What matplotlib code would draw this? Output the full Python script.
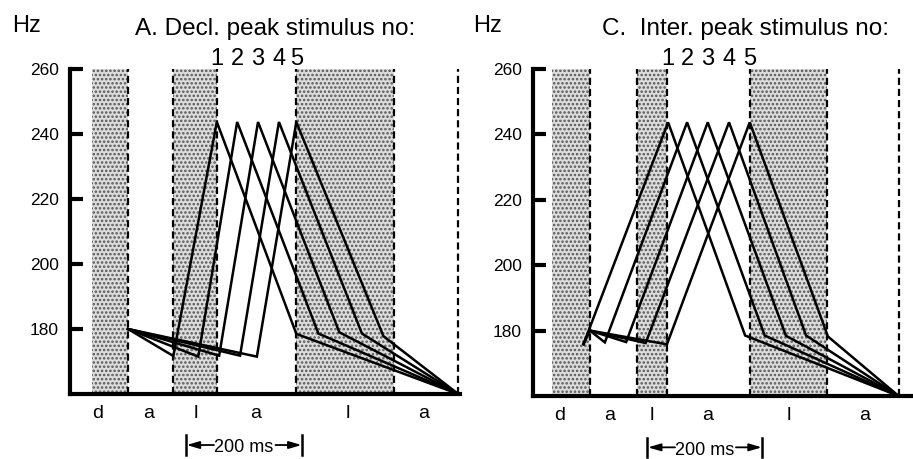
import matplotlib
matplotlib.use('Agg')
import matplotlib.pyplot as plt

plt.rcParams['font.family'] = ['Liberation Sans', 'DejaVu Sans']
plt.rcParams['hatch.linewidth'] = 1.2

# frequencies shared by both panels (Hz)
start_hz = 180
peak_hz = 243.7
end_hz = 160
yticks = [180, 200, 220, 240, 260]
seg_labels = ['d', 'a', 'l', 'a', 'l', 'a']
stim_nos = ['1', '2', '3', '4', '5']

# A. declining peak (times in ms, 0 = end of the 'd' segment)
a_dip_t = [78, 121, 157, 193, 222]
a_dip_hz = [171.7, 171.5, 171.8, 171.8, 171.5]
a_peak_t = [153, 188, 224, 260, 290]
a_knee_t = [290, 328, 364, 403, 440]
a_knee_hz = [178.5, 178.6, 179.0, 178.6, 177.8]
a_end_t = 569
a_bounds = [0, 78, 153, 290, 459, 569]
a_shade = [(-62, 0), (78, 153), (290, 459)]
a_label_t = [-52, 36, 117, 219, 378, 509]

# C. intermediate peak
c_dip_t = [-12, 26, 63, 97, 134]
c_dip_hz = [175.5, 176.4, 176.5, 176.2, 175.8]
c_peak_t = [136, 169, 205, 242, 278]
c_knee_t = [270, 304, 341, 376, 414]
c_knee_hz = [178.5, 178.5, 178.4, 178.5, 178.2]
c_end_t = 537
c_bounds = [0, 82, 134, 278, 412, 537]
c_shade = [(-66, 0), (82, 134), (278, 412)]
c_label_t = [-52, 35, 108, 205, 346, 477]

W, H = 913, 459
fig = plt.figure(figsize=(W / 100, H / 100), dpi=100)


def px_axes(left, top, right, bottom):
    return fig.add_axes([left / W, 1 - bottom / H, (right - left) / W, (bottom - top) / H])


def draw_panel(ax, title, title_t, dip_t, dip_hz, peak_t, knee_t, knee_hz,
               end_t, bounds, shade, label_t, xlim):
    ax.set_xlim(*xlim)
    ax.set_ylim(160, 260)

    # stippled segments
    for x0, x1 in shade:
        ax.axvspan(x0, x1, facecolor='#dcdcdc', edgecolor='#555555',
                   hatch='....', lw=0, zorder=0)
    for b in bounds:
        ax.axvline(b, color='k', lw=1.6, ls=(0, (3.2, 1.8)), zorder=1)

    # the five stimuli
    for i in range(5):
        ts = [0, dip_t[i], peak_t[i], knee_t[i], end_t]
        hz = [start_hz, dip_hz[i], peak_hz, knee_hz[i], end_hz]
        ax.plot(ts, hz, color='k', lw=1.8, zorder=3, solid_joinstyle='miter',
                clip_on=False)

    for sp in ['top', 'right']:
        ax.spines[sp].set_visible(False)
    for sp in ['left', 'bottom']:
        ax.spines[sp].set_linewidth(3)
    ax.set_yticks(yticks)
    ax.tick_params(axis='y', direction='in', length=9.5, width=3, pad=8,
                   labelsize=12.5)
    ax.set_xticks(label_t, seg_labels)
    ax.tick_params(axis='x', length=0, pad=8, labelsize=14)

    tr = ax.get_xaxis_transform()
    ax.text(title_t, 1.105, title, transform=tr, ha='center', va='baseline',
            fontsize=17.5)
    for t, s in zip(peak_t, stim_nos):
        ax.text(t, 1.011, s, transform=tr, ha='center', va='baseline',
                fontsize=17)

    # 200 ms scale bar
    yb = -0.157
    for x in [100, 300]:
        ax.plot([x, x], [yb - 0.03, yb + 0.03], transform=tr, color='k',
                lw=1.8, clip_on=False)
    ax.text(200, -0.18, '200 ms', transform=tr, ha='center', va='baseline',
            fontsize=13)
    arrow = dict(arrowstyle='-|>,head_length=0.75,head_width=0.22', color='k',
                 lw=1.3, shrinkA=0, shrinkB=0)
    ax.annotate('', xy=(101, yb), xytext=(148, yb), xycoords=tr,
                textcoords=tr, arrowprops=arrow)
    ax.annotate('', xy=(299, yb), xytext=(254, yb), xycoords=tr,
                textcoords=tr, arrowprops=arrow)


ax1 = px_axes(70, 69, 460, 394)
draw_panel(ax1, 'A. Decl. peak stimulus no:', 253, a_dip_t, a_dip_hz, a_peak_t,
           a_knee_t, a_knee_hz, a_end_t, a_bounds, a_shade, a_label_t,
           (-100, 572))

ax2 = px_axes(533, 69, 913, 396)
draw_panel(ax2, 'C.  Inter. peak stimulus no:', 270, c_dip_t, c_dip_hz, c_peak_t,
           c_knee_t, c_knee_hz, c_end_t, c_bounds, c_shade, c_label_t,
           (-99, 562))

fig.text(12 / W, 1 - 32 / H, 'Hz', fontsize=17, va='baseline')
fig.text(473 / W, 1 - 32 / H, 'Hz', fontsize=17, va='baseline')

fig.savefig('out.png', dpi=100)
